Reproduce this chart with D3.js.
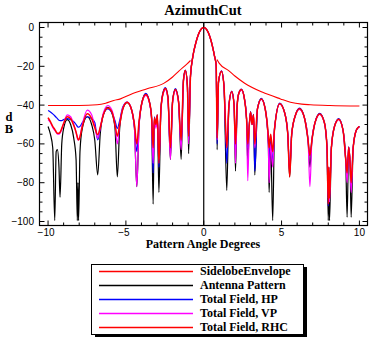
<!DOCTYPE html>
<html><head><meta charset="utf-8">
<script src="https://cdn.jsdelivr.net/npm/d3@7"></script>
<style>body{margin:0;background:#fff}svg{display:block}</style>
</head><body>
<svg id="chart" width="386" height="355"></svg>
<script>
// ---- data ----
const angles = [
 -10.00,-9.85,-9.70,-9.57,-9.48,-9.40,-9.30,-9.23,-9.12,-9.00,
 -8.77,-8.55,-8.35,-8.20,-8.12,-8.08,-8.04,-7.95,-7.80,-7.48,
 -7.20,-7.00,-6.81,-6.65,-6.45,-6.16,-5.90,-5.70,-5.55,-5.40,
 -5.20,-4.92,-4.65,-4.45,-4.30,-4.15,-3.95,-3.72,-3.50,-3.35,
 -3.25,-3.17,-3.07,-2.98,-2.88,-2.75,-2.60,-2.46,-2.30,-2.14,
 -2.00,-1.82,-1.62,-1.45,-1.30,-1.18,-1.05,-0.97,-0.85,-0.70,
 -0.50,-0.25,0,0.25,0.50,0.70,0.80,0.86,0.95,1.14,
 1.30,1.48,1.62,1.80,1.95,2.04,2.15,2.25,2.42,2.62,
 2.75,2.83,2.93,3.01,3.10,3.20,3.28,3.45,3.70,3.95,
 4.15,4.20,4.30,4.43,4.55,4.88,5.20,5.40,5.52,5.65,
 5.90,6.15,6.45,6.70,6.82,6.95,7.15,7.45,7.75,7.92,
 8.00,8.04,8.08,8.20,8.40,8.67,8.95,9.12,9.21,9.31,
 9.40,9.47,9.60,9.80,10.00];
const antennaPattern = [
 -51,-55,-62,-99.5,-64,-63,-72,-87.5,-60,-52,
 -47.5,-50,-57,-68,-99.5,-80,-99.5,-64,-52,-46,
 -50,-58,-76,-55,-45,-41.2,-44,-52,-77,-52,
 -42,-38.7,-42,-52,-82,-50,-38,-34.5,-38,-47,
 -91,-47,-51,-45.5,-85,-42,-33.5,-31.5,-36,-68,
 -38,-32,-38,-68,-27,-22.2,-30,-65,-25,-15,
 -7.7,-1.9,0,-1.9,-7.7,-15,-19.5,-63,-28,-22.5,
 -30,-84,-40,-33,-40,-74,-40,-34,-32,-37,
 -47,-70,-50,-43.6,-50,-45,-76,-42,-36.8,-42,
 -60,-85,-58,-99.5,-52,-39.3,-44,-55,-77,-55,
 -45,-41.9,-46,-58,-72,-58,-49,-44.6,-49,-62,
 -99.5,-75,-99.5,-62,-51,-47.3,-53,-68,-97.8,-61.7,
 -70,-97.8,-62,-53,-51];
const totalHP = [
 -42.8,-43.5,-44.5,-45.5,-46.3,-47,-47.8,-48,-48,-47.5,
 -47,-47.5,-48.5,-50,-51,-51.4,-51.4,-51,-49,-46,
 -47,-49,-58,-52,-45,-42,-44,-48,-52,-48,
 -41,-38.5,-42,-51,-64,-49,-38,-34,-38,-46,
 -75,-46,-50,-45,-72,-42,-33,-31,-36,-64,
 -38,-31.5,-38,-60,-27,-22,-30,-58,-25,-15,
 -7.7,-1.9,0,-1.9,-7.7,-15,-19.5,-60,-28,-22.3,
 -30,-70,-40,-32.8,-40,-64,-40,-34,-31.8,-37,
 -47,-62,-50,-43.3,-50,-44.8,-74,-42,-36.5,-42,
 -58,-70,-56,-70,-52,-39,-44,-55,-74,-55,
 -45,-41.6,-46,-58,-66,-58,-49,-44.3,-49,-62,
 -92,-72,-85,-62,-51,-47,-53,-68,-75,-61.7,
 -70,-82,-62,-53,-51];
const totalVP = [
 -47.5,-49,-51.5,-53,-54,-55,-55,-54.5,-52.5,-49.5,
 -45,-46,-50,-54,-57,-58,-58,-56,-50,-42.6,
 -45,-51,-57,-52,-44,-40.2,-42.5,-50,-60,-50,
 -41.5,-38.5,-42,-52,-82,-50,-38.5,-35,-38.5,-47,
 -70,-47,-52,-46,-68,-43,-34,-32,-37,-68,
 -39,-32.5,-39,-63,-27.5,-22.5,-30,-60,-25,-15,
 -7.7,-1.9,0,-1.9,-7.7,-15,-19.5,-58,-28,-22.5,
 -30,-62,-40,-33,-40,-70,-40,-34,-32.3,-37,
 -47,-79,-50,-43.8,-50,-45.3,-62,-42,-37,-42,
 -60,-80,-60,-72,-52,-39.5,-44,-55,-75,-55,
 -45,-42.2,-46,-58,-82,-58,-49,-44.8,-49,-62,
 -88,-74,-90,-62,-51,-47.5,-53,-68,-80,-61.7,
 -70,-85,-62,-53,-51];
const totalRHC = [
 -46.5,-48.5,-51,-52.5,-53.8,-54.5,-54.5,-54,-52,-49.5,
 -46,-47,-50.5,-54,-56.5,-57.5,-58,-56.5,-51,-44.5,
 -47,-51.5,-55.2,-51.5,-45,-41.5,-43.5,-50,-56,-50,
 -42,-38.5,-42,-50,-60,-48,-38,-34.5,-38,-46,
 -62,-46.5,-50,-45,-70,-42,-33.5,-31.5,-36,-62,
 -38,-32,-38,-58,-27,-22.2,-30,-56,-25,-15,
 -7.7,-1.9,0,-1.9,-7.7,-15,-19.5,-57,-28,-22.5,
 -30,-62,-40,-33,-40,-60,-40,-34,-32,-37,
 -47,-60,-50,-43.6,-50,-45,-60,-42,-36.8,-42,
 -56,-62,-55,-64,-52,-39.3,-44,-55,-77,-55,
 -45,-41.9,-46,-58,-66,-58,-49,-44.6,-49,-62,
 -91,-72,-88,-62,-51,-47.3,-53,-68,-75,-61.7,
 -70,-80,-62,-53,-51];
const envAngles = [-10,-8,-6.85,-6.3,-5.78,-5.35,-4.7,-3.64,-2.57,-2.0,-1.6,-1.07,-0.85,
  0, 0.85,1.0,1.6,2.0,2.63,3.75,4.93,5.57,6.3,6.85,8.1,10];
const envValues = [-40.2,-40.2,-39.8,-39,-37.6,-36.8,-34.5,-31.6,-28.8,-25.5,-22.5,-18.7,-17,
  null, -16.5,-18.5,-22.2,-25,-28.7,-33.3,-36.8,-38.5,-39.5,-39.8,-40.2,-40.5];
const xMajorTicks = [-10,-5,0,5,10];
const xMinorTicks = d3.range(-10,11,1);
const yMajorTicks = [0,-20,-40,-60,-80,-100];
const yMinorTicks = d3.range(-100,1,5);
const seriesNames = ["SidelobeEnvelope","Antenna Pattern","Total Field, HP","Total Field, VP","Total Field, RHC"];
const seriesColors = ["#ff0000","#000000","#0000ff","#ff00ff","#ff0000"];

// ---- layout ----
const svg = d3.select("#chart");
const L = 39.5, R = 367.5, T = 22.5, B = 225.5;
const x = d3.scaleLinear().domain([-10.55, 10.52]).range([L, R]);
const y = d3.scaleLinear().domain([-102.06, 2.58]).range([B, T]);
const serif = "'Liberation Serif','Times New Roman',serif";
const sans = "'Liberation Sans',Arial,sans-serif";

svg.append("rect").attr("width",386).attr("height",355).attr("fill","#fff");

svg.append("text").attr("x",203).attr("y",15).attr("text-anchor","middle")
  .attr("font-family",serif).attr("font-weight","bold").attr("font-size",14.5).text("AzimuthCut");

svg.append("defs").append("clipPath").attr("id","clip")
  .append("rect").attr("x",L).attr("y",T).attr("width",R-L).attr("height",B-T);

// axis line at x=0
svg.append("line").attr("x1",x(0)).attr("x2",x(0)).attr("y1",T).attr("y2",B)
  .attr("stroke","#000").attr("stroke-width",1.2);

const g = svg.append("g").attr("clip-path","url(#clip)");
const line = d3.line().x(d=>x(d[0])).y(d=>y(d[1])).defined(d=>d[1]!==null).curve(d3.curveMonotoneX);

g.append("path").datum(envAngles.map((a,i)=>[a,envValues[i]]))
  .attr("d",line).attr("fill","none").attr("stroke",seriesColors[0]).attr("stroke-width",1.1);
[[antennaPattern,1],[totalHP,2],[totalVP,3],[totalRHC,4]].forEach(([vals,ci])=>{
  g.append("path").datum(angles.map((a,i)=>[a,vals[i]]))
    .attr("d",line).attr("fill","none").attr("stroke",seriesColors[ci])
    .attr("stroke-width", ci===4?1.5:1.2).attr("stroke-linejoin","round");
});

// frame
svg.append("rect").attr("x",L).attr("y",T).attr("width",R-L).attr("height",B-T)
  .attr("fill","none").attr("stroke","#000").attr("stroke-width",1.2);

// ticks
const tk = svg.append("g").attr("stroke","#000").attr("stroke-width",1);
xMinorTicks.forEach(v=>{
  const len = xMajorTicks.includes(v)?5:3;
  tk.append("line").attr("x1",x(v)).attr("x2",x(v)).attr("y1",B).attr("y2",B-len);
  tk.append("line").attr("x1",x(v)).attr("x2",x(v)).attr("y1",T).attr("y2",T+len);
});
yMinorTicks.forEach(v=>{
  const len = yMajorTicks.includes(v)?5:3;
  tk.append("line").attr("y1",y(v)).attr("y2",y(v)).attr("x1",L).attr("x2",L+len);
  tk.append("line").attr("y1",y(v)).attr("y2",y(v)).attr("x1",R).attr("x2",R-len);
});
const fmt = v => v<0 ? "\u2212"+Math.abs(v) : String(v);
xMajorTicks.forEach(v=>{
  svg.append("text").attr("x",x(v)+(v<0?-2:0)).attr("y",236).attr("text-anchor","middle")
    .attr("font-family",sans).attr("font-size",10).text(fmt(v));
});
yMajorTicks.forEach(v=>{
  svg.append("text").attr("x",34).attr("y",y(v)+3.5).attr("text-anchor","end")
    .attr("font-family",sans).attr("font-size",10).text(fmt(v));
});

// axis labels
svg.append("text").attr("x",203).attr("y",247.5).attr("text-anchor","middle")
  .attr("font-family",serif).attr("font-weight","bold").attr("font-size",12).text("Pattern Angle Degrees");
svg.append("text").attr("x",9).attr("y",120.7).attr("text-anchor","middle")
  .attr("font-family",serif).attr("font-weight","bold").attr("font-size",12.5).text("d");
svg.append("text").attr("x",9).attr("y",133.3).attr("text-anchor","middle")
  .attr("font-family",serif).attr("font-weight","bold").attr("font-size",12.5).text("B");

// legend
const lg = svg.append("g");
lg.append("rect").attr("x",95).attr("y",267).attr("width",212).attr("height",70).attr("fill","#000");
lg.append("rect").attr("x",91.5).attr("y",264.5).attr("width",212).attr("height",70)
  .attr("fill","#fff").attr("stroke","#000").attr("stroke-width",1);
const rowY = [271.5,285.5,299.5,313.5,327.5];
seriesNames.forEach((n,i)=>{
  lg.append("line").attr("x1",99).attr("x2",193).attr("y1",rowY[i]).attr("y2",rowY[i])
    .attr("stroke",seriesColors[i]).attr("stroke-width",1.3);
  lg.append("text").attr("x",200).attr("y",rowY[i]+3.5).attr("font-family",serif)
    .attr("font-weight","bold").attr("font-size",12).text(n);
});
</script>
</body></html>
